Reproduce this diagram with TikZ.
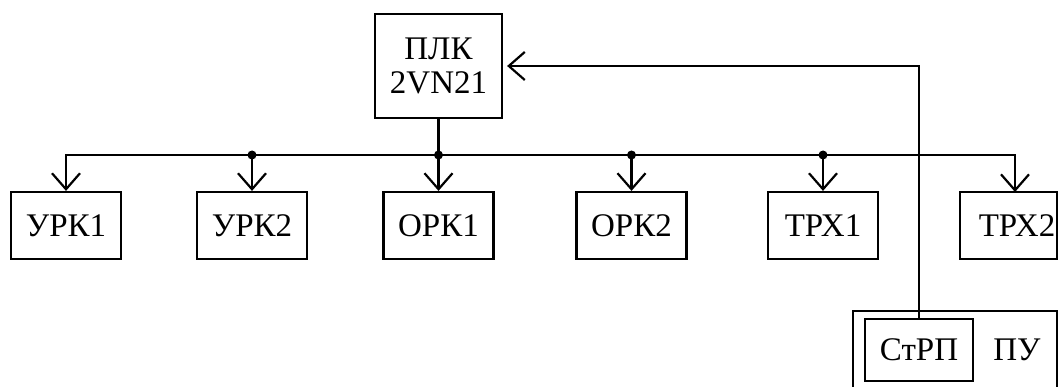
\documentclass[tikz,border=0pt]{standalone}
\usepackage{fontspec}
\setmainfont{Liberation Serif}
\usetikzlibrary{arrows.meta}
\tikzset{
  wire/.style={line width=2.2pt},
  feed/.style={wire, -{Straight Barb[length=16pt,width=28pt,line width=2.2pt]}},
  lbl/.style={font=\fontsize{33}{34}\selectfont},
  block/.style={draw, line width=2.2pt, minimum width=110pt, minimum height=67pt,
                inner sep=0pt, lbl},
  tap/.style={circle, fill=black, inner sep=0pt, minimum size=9pt}
}
\begin{document}
\begin{tikzpicture}[x=1pt, y=-1pt]
  \useasboundingbox (0,0) rectangle (1059,387);
  \clip (0,0) rectangle (1059,387);

  % controller
  \node[block, minimum width=127pt, minimum height=104pt, align=center]
       (plk) at (438.5,66) {ПЛК\\2VN21};

  % controlled units
  \node[block] (urk1) at (66,225.5)  {УРК1};
  \node[block] (urk2) at (252,225.5) {УРК2};
  \node[block] (ork1) at (438.5,225.5) {ОРК1};
  \node[block] (ork2) at (631.5,225.5) {ОРК2};
  \node[block] (trx1) at (823,225.5) {ТРХ1};
  \node[block, minimum width=97pt] (trx2) at (1008.5,225.5) {\hspace*{17pt}ТРХ2};

  % control panel with the start-stop unit
  \coordinate (puA) at (853,311);
  \coordinate (puB) at (1057,400);
  \draw[wire] (puA) rectangle (puB);
  \node[lbl] (pu) at (1017,350) {ПУ};
  \node[block, minimum width=108pt, minimum height=62pt] (strp) at (919,350) {СтРП};

  % distribution bus
  \coordinate (bus) at (438.5,155);
  \coordinate (j1) at (urk2.north |- bus);
  \coordinate (j2) at (ork2.north |- bus);
  \coordinate (j3) at (trx1.north |- bus);
  \coordinate (jr) at (1015,155);
  \coordinate (t6) at (1015,192);

  \draw[wire] (plk.south) -- (bus);
  \draw[feed] (bus) -| (urk1.north);
  \draw[feed] (bus) -- (jr) -- (t6);
  \draw[feed] (j1) -- (urk2.north);
  \draw[feed] (bus) -- (ork1.north);
  \draw[feed] (j2) -- (ork2.north);
  \draw[feed] (j3) -- (trx1.north);

  \node[tap] at (j1) {};
  \node[tap] at (bus) {};
  \node[tap] at (j2) {};
  \node[tap] at (j3) {};

  % feedback from the start-stop unit to the controller
  \coordinate (up) at (strp.north |- plk.east);
  \draw[feed] (strp.north) -- (up) -- ([xshift=4pt]plk.east);
\end{tikzpicture}
\end{document}
